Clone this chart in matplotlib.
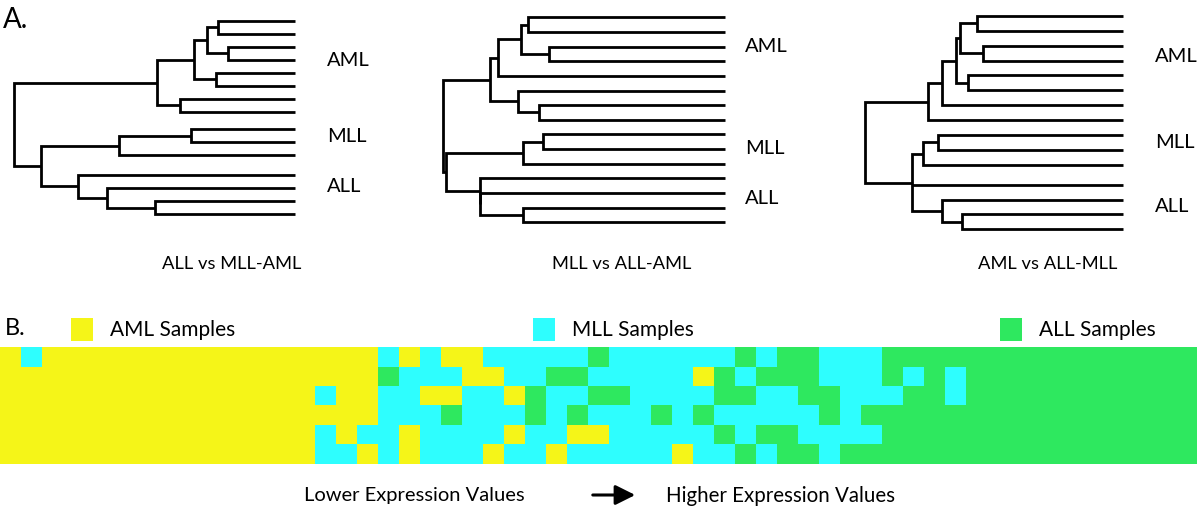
import numpy as np
import matplotlib
matplotlib.use("Agg")
import matplotlib.pyplot as plt
from matplotlib.colors import ListedColormap
from matplotlib.patches import Rectangle, FancyArrowPatch

# ---------------- data ----------------
groups = ["AML", "MLL", "ALL"]
group_sizes = [8, 3, 4]
sample_labels = ["AML Samples", "MLL Samples", "ALL Samples"]
panel_titles = ["ALL vs MLL-AML", "MLL vs ALL-AML", "AML vs ALL-MLL"]

# dendrogram trees: (merge distance, child, child, ...) ; leaves are ints
tree_1 = (1.000,
          (0.493,
           (0.359, (0.312, (0.275, 0, 1), (0.240, 2, 3)), (0.281, 4, 5)),
           (0.410, 6, 7)),
          (0.905,
           (0.627, (0.370, 8, 9), 10),
           (0.774, 11, (0.671, 12, (0.498, 13, 14)))))
tree_2 = (1.000,
          (0.834,
           (0.805, (0.725, (0.698, 0, 1), (0.624, 2, 3)), 4),
           (0.736, 5, (0.660, 6, 7))),
          (0.991,
           (0.716, (0.647, 8, 9), 10),
           (0.870, 11, (0.870, 12, (0.716, 13, 14)))))
tree_3 = (1.000,
          (0.757,
           (0.703, (0.648, (0.632, (0.568, 0, 1), (0.544, 2, 3)), (0.600, 4, 5)), 6),
           7),
          (0.819,
           (0.774, (0.716, 8, 9), 10),
           11,
           (0.703, 12, (0.626, 13, 14))))
trees = [tree_1, tree_2, tree_3]

# heatmap: Y = AML, M = MLL, G = ALL  (6 rows x 57 columns)
heat_rows = [
    "YM" + "Y"*16 + "M" + "Y" + "M" + "YY" + "MMMMM" + "G" + "MMMMMM" + "G" + "M" + "GG" + "MMM" + "G"*15,
    "Y"*18 + "G" + "MMM" + "YY" + "MM" + "GG" + "MMMMM" + "Y" + "G" + "M" + "GGG" + "MMM" + "G" + "M" + "G" + "M" + "G"*11,
    "Y"*15 + "M" + "YY" + "MM" + "YY" + "MM" + "Y" + "G" + "MM" + "GG" + "MMMM" + "GG" + "MM" + "GG" + "MMM" + "GG" + "M" + "G"*11,
    "Y"*18 + "MMM" + "G" + "MMM" + "G" + "M" + "G" + "MMM" + "G" + "M" + "G" + "MMMMM" + "G" + "M" + "G"*16,
    "Y"*15 + "M" + "Y" + "MM" + "Y" + "MMMM" + "Y" + "MM" + "YY" + "MMMMM" + "G" + "M" + "GG" + "MMMM" + "G"*15,
    "Y"*15 + "MM" + "Y" + "M" + "Y" + "MMM" + "Y" + "MM" + "Y" + "MMMMM" + "Y" + "MM" + "G" + "M" + "GG" + "M" + "G"*17,
]
code = {"Y": 0, "M": 1, "G": 2}

# ---------------- style ----------------
W, H = 1200, 514
colors = ["#F5F518", "#2EFEFE", "#2EE85F"]
FONT = "Lato"
plt.rcParams["font.family"] = [FONT, "DejaVu Sans"]

fig = plt.figure(figsize=(W / 100, H / 100), dpi=100)


def fx(x):
    return x / W


def fy(y):
    return 1 - y / H


def px_axes(l, r, t, b):
    return fig.add_axes([fx(l), fy(b), fx(r) - fx(l), fy(t) - fy(b)])


# dendrogram layout (pixel boxes) and group gaps (in leaf units)
dendro_boxes = [(14.3, 295, 21, 214), (443.3, 725, 17.3, 222.3), (865, 1123.3, 16, 229.3)]
dendro_gaps = [[0.33, 0.52], [0.0, 0.0], [0.0, 0.34]]
label_pos = [[(327, 61), (327, 137), (327, 187)],
             [(745, 46), (745, 148), (745, 198)],
             [(1155, 56), (1155, 143), (1155, 207)]]
title_pos = [(232, 264), (622, 264), (1048, 264)]
LW = 2.0


def leaf_positions(gaps):
    pos = []
    offset = 0.0
    idx = 0
    for g, n in enumerate(group_sizes):
        if g > 0:
            offset += gaps[g - 1]
        for _ in range(n):
            pos.append(idx + offset)
            idx += 1
    return pos


def draw_node(ax, node, pos):
    if isinstance(node, int):
        return pos[node], 0.0
    h = node[0]
    kids = [draw_node(ax, c, pos) for c in node[1:]]
    ys = [k[0] for k in kids]
    k0, k1 = kids[0], kids[-1]
    ax.plot([k0[1], h, h, k1[1]], [k0[0], k0[0], k1[0], k1[0]],
            color="black", lw=LW, solid_joinstyle="miter", solid_capstyle="butt", clip_on=False)
    for k in kids[1:-1]:
        ax.plot([k[1], h], [k[0], k[0]], color="black", lw=LW,
                solid_capstyle="butt", clip_on=False)
    return float(np.mean(ys)), h


for i, tree in enumerate(trees):
    l, r, t, b = dendro_boxes[i]
    ax = px_axes(l, r, t, b)
    pos = leaf_positions(dendro_gaps[i])
    draw_node(ax, tree, pos)
    ax.set_xlim(tree[0], 0)
    ax.set_ylim(pos[-1], pos[0])
    ax.axis("off")
    for g, (x, y) in enumerate(label_pos[i]):
        fig.text(fx(x), fy(y), groups[g], fontsize=14.5, ha="left", va="center")
    tx, ty = title_pos[i]
    fig.text(fx(tx), fy(ty), panel_titles[i], fontsize=13.2, ha="center", va="center")

fig.text(fx(3), fy(28), "A.", fontsize=20, ha="left", va="baseline")
fig.text(fx(5), fy(335), "B.", fontsize=17, ha="left", va="baseline")

# ---------------- heatmap ----------------
mat = np.array([[code[c] for c in row] for row in heat_rows])
hax = px_axes(0, 1197, 347.3, 463.5)
cmap = ListedColormap(colors)
hax.pcolormesh(np.arange(mat.shape[1] + 1), np.arange(mat.shape[0] + 1), mat,
               cmap=cmap, vmin=-0.5, vmax=2.5)
hax.set_xlim(0, mat.shape[1])
hax.set_ylim(mat.shape[0], 0)
hax.axis("off")

# legend
leg_sq = [71, 533, 1000]
for k in range(3):
    x0 = leg_sq[k]
    fig.add_artist(Rectangle((fx(x0), fy(341)), fx(21.5), fy(318) - fy(341),
                             transform=fig.transFigure, facecolor=colors[k], edgecolor="none"))
    fig.text(fx(x0 + 39), fy(330), sample_labels[k], fontsize=15, ha="left", va="center")

# bottom axis description
fig.text(fx(304), fy(496), "Lower Expression Values", fontsize=14.5, ha="left", va="center")
fig.text(fx(666), fy(496), "Higher Expression Values", fontsize=14.8, ha="left", va="center")
fig.add_artist(FancyArrowPatch((fx(590), fy(495)), (fx(638), fy(495)), transform=fig.transFigure,
                               arrowstyle="-|>,head_length=10,head_width=5", color="black",
                               lw=2.2, mutation_scale=1.2))

fig.savefig("out.png", dpi=100, facecolor="white")
